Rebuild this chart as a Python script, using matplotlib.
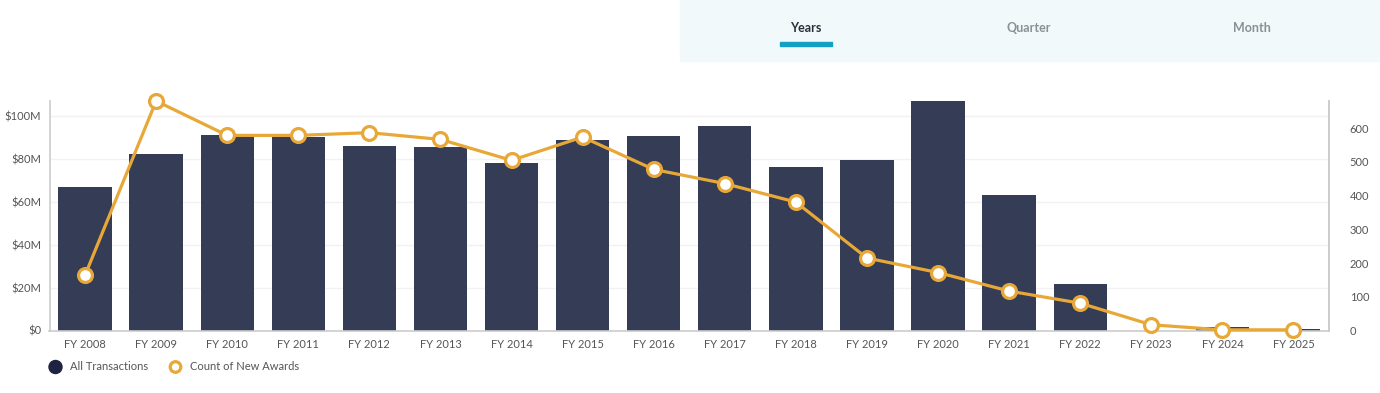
import matplotlib
matplotlib.use('Agg')
import matplotlib.pyplot as plt
import numpy as np
from matplotlib.patches import Rectangle, Circle
from matplotlib.ticker import FuncFormatter

# 数据
years = ['FY 2008', 'FY 2009', 'FY 2010', 'FY 2011', 'FY 2012', 'FY 2013',
         'FY 2014', 'FY 2015', 'FY 2016', 'FY 2017', 'FY 2018', 'FY 2019',
         'FY 2020', 'FY 2021', 'FY 2022', 'FY 2023', 'FY 2024', 'FY 2025']
transactions_m = [67.1, 82.3, 91.5, 90.4, 86.4, 85.9, 78.1, 88.9, 90.7, 95.6,
                  76.3, 79.5, 107.2, 63.5, 21.7, 0.0, 1.6, 0.6]
new_awards = [164, 681, 579, 579, 587, 567, 505, 574, 478, 436,
              381, 215, 172, 117, 81, 17, 2, 2]
left_ticks = [0, 20, 40, 60, 80, 100]
right_ticks = [0, 100, 200, 300, 400, 500, 600]
tabs = ['Years', 'Quarter', 'Month']

bar_color = '#353c55'
line_color = '#e8a838'
label_color = '#555555'

plt.rcParams['font.family'] = ['Lato', 'DejaVu Sans']

W, H = 1380, 393
fig = plt.figure(figsize=(W / 100, H / 100), dpi=100)
fig.patch.set_facecolor('white')

# 主坐标轴
ax = fig.add_axes([49.5 / W, 1 - 330.5 / H, (1329 - 49.5) / W, (330.5 - 101) / H])
x = np.arange(len(years))
ax.bar(x, transactions_m, width=0.75, color=bar_color, zorder=2)
ax.set_xlim(-0.5, len(years) - 0.5)
ax.set_ylim(0, max(transactions_m))
ax.set_yticks(left_ticks)
ax.yaxis.set_major_formatter(FuncFormatter(lambda v, p: '$0' if v == 0 else f'${int(v)}M'))
ax.set_xticks(x)
ax.set_xticklabels(years)
ax.grid(axis='y', color='#f2f2f2', linewidth=1, zorder=0)
ax.set_axisbelow(True)
ax.tick_params(axis='both', length=0, labelsize=8, colors=label_color)
ax.tick_params(axis='x', pad=6)
ax.tick_params(axis='y', pad=6)
ax.spines['top'].set_visible(False)
for s in ['left', 'right', 'bottom']:
    ax.spines[s].set_color('#cccccc')
    ax.spines[s].set_linewidth(1.2)

# 右侧坐标轴：新奖项数量
ax2 = ax.twinx()
ax2.plot(x, new_awards, color=line_color, linewidth=2.3, marker='o', markersize=10,
         markerfacecolor='white', markeredgecolor=line_color, markeredgewidth=2.3,
         zorder=3, clip_on=False)
ax2.set_ylim(0, max(new_awards))
ax2.set_yticks(right_ticks)
ax2.tick_params(axis='y', length=0, labelsize=8, colors=label_color, pad=15)
for s in ['top', 'left', 'bottom']:
    ax2.spines[s].set_visible(False)
ax2.spines['right'].set_color('#cccccc')
ax2.spines['right'].set_linewidth(1.2)

# 顶部标签栏（像素坐标）
ov = fig.add_axes([0, 0, 1, 1], zorder=-1)
ov.set_xlim(0, W)
ov.set_ylim(H, 0)
ov.axis('off')
ov.add_patch(Rectangle((680, 0), 700, 61, color='#f2f9fb', zorder=0))
tab_x = [806, 1029, 1252]
for t, tx in zip(tabs, tab_x):
    c = '#2b2f3a' if t == 'Years' else '#8a9096'
    ov.text(tx, 28, t, ha='center', va='center', fontsize=9, fontweight='bold', color=c)
ov.add_patch(Rectangle((780, 41.5), 52, 4, color='#14a0c4', zorder=1))

# 图例
ov2 = fig.add_axes([0, 0, 1, 1], zorder=5)
ov2.set_xlim(0, W)
ov2.set_ylim(H, 0)
ov2.axis('off')
ov2.add_patch(Circle((55.5, 367), 6.5, color='#1d2340'))
ov2.text(70, 367, 'All Transactions', ha='left', va='center', fontsize=8, color=label_color)
ov2.add_patch(Circle((175.5, 367), 5.3, facecolor='white', edgecolor=line_color, linewidth=2.3))
ov2.text(190, 367, 'Count of New Awards', ha='left', va='center', fontsize=8, color=label_color)

fig.savefig('out.png', dpi=100)
